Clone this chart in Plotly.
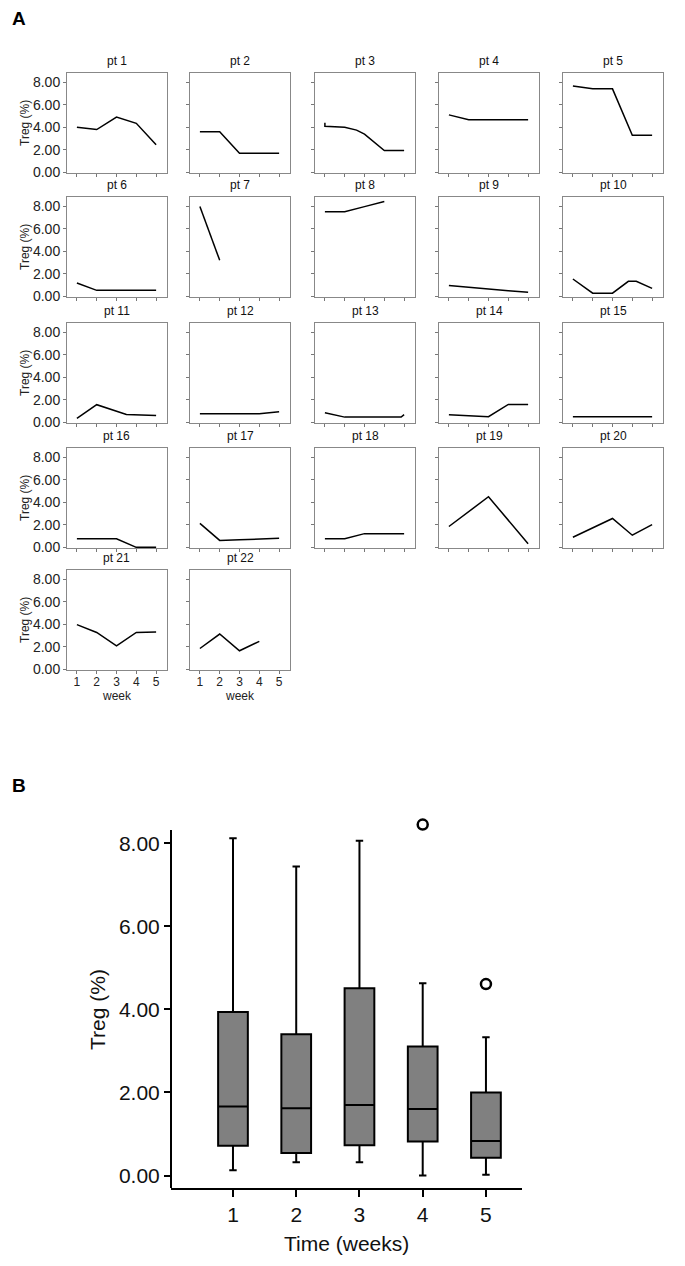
import plotly.graph_objects as go

# ---------------- Panel A data (per patient) ----------------
pt_names = [f"pt {i}" for i in range(1, 23)]
week_full = [1, 2, 3, 4, 5]
pt1_x, pt1_y = week_full, [4.0, 3.8, 4.9, 4.35, 2.45]
pt2_x, pt2_y = week_full, [3.6, 3.6, 1.7, 1.7, 1.7]
pt3_x, pt3_y = [1, 1, 2, 2.6, 3, 3.5, 4, 5], [4.4, 4.1, 4.0, 3.75, 3.4, 2.7, 1.95, 1.95]
pt4_x, pt4_y = week_full, [5.1, 4.67, 4.67, 4.67, 4.67]
pt5_x, pt5_y = week_full, [7.65, 7.4, 7.4, 3.3, 3.3]
pt6_x, pt6_y = week_full, [1.2, 0.55, 0.55, 0.55, 0.55]
pt7_x, pt7_y = [1, 2], [7.97, 3.2]
pt8_x, pt8_y = [1, 2, 3, 4], [7.5, 7.5, 7.95, 8.4]
pt9_x, pt9_y = week_full, [0.97, 0.8, 0.67, 0.52, 0.38]
pt10_x, pt10_y = [1, 2, 3, 3.8, 4.2, 5], [1.55, 0.3, 0.3, 1.35, 1.35, 0.72]
pt11_x, pt11_y = [1, 2, 3.5, 5], [0.36, 1.58, 0.72, 0.62]
pt12_x, pt12_y = week_full, [0.78, 0.78, 0.78, 0.78, 0.95]
pt13_x, pt13_y = [1, 2, 3, 4, 4.85, 5], [0.86, 0.48, 0.48, 0.48, 0.48, 0.7]
pt14_x, pt14_y = week_full, [0.68, 0.6, 0.52, 1.6, 1.6]
pt15_x, pt15_y = week_full, [0.52, 0.52, 0.52, 0.52, 0.52]
pt16_x, pt16_y = week_full, [0.77, 0.77, 0.77, 0.02, 0.02]
pt17_x, pt17_y = week_full, [2.14, 0.63, 0.68, 0.74, 0.82]
pt18_x, pt18_y = week_full, [0.77, 0.77, 1.23, 1.23, 1.23]
pt19_x, pt19_y = [1, 3, 5], [1.86, 4.49, 0.34]
pt20_x, pt20_y = [1, 3, 4, 5], [0.91, 2.57, 1.09, 2.03]
pt21_x, pt21_y = week_full, [3.97, 3.28, 2.1, 3.28, 3.32]
pt22_x, pt22_y = [1, 2, 3, 4], [1.86, 3.14, 1.66, 2.49]

pt_xs = [pt1_x, pt2_x, pt3_x, pt4_x, pt5_x, pt6_x, pt7_x, pt8_x, pt9_x, pt10_x, pt11_x,
         pt12_x, pt13_x, pt14_x, pt15_x, pt16_x, pt17_x, pt18_x, pt19_x, pt20_x, pt21_x, pt22_x]
pt_ys = [pt1_y, pt2_y, pt3_y, pt4_y, pt5_y, pt6_y, pt7_y, pt8_y, pt9_y, pt10_y, pt11_y,
         pt12_y, pt13_y, pt14_y, pt15_y, pt16_y, pt17_y, pt18_y, pt19_y, pt20_y, pt21_y, pt22_y]

small_yticks = [0, 2, 4, 6, 8]
small_xticks = [1, 2, 3, 4, 5]

# ---------------- Panel B data (box summary) ----------------
box_weeks = [1, 2, 3, 4, 5]
box_lower = [0.13, 0.32, 0.32, 0.0, 0.02]
box_q1 = [0.72, 0.54, 0.73, 0.82, 0.43]
box_median = [1.66, 1.62, 1.70, 1.60, 0.83]
box_q3 = [3.94, 3.40, 4.51, 3.11, 2.00]
box_upper = [8.12, 7.44, 8.06, 4.63, 3.33]
outlier_x = [4, 5]
outlier_y = [8.45, 4.61]
big_yticks = [0, 2, 4, 6, 8]

# ---------------- layout geometry (window pixels) ----------------
WIN_W, WIN_H = 685, 1266
OFF = 8  # default page body margin
W, H = WIN_W - 2 * OFF, WIN_H - 2 * OFF
col_left = [67, 190, 315, 439, 563]
row_top = [73, 197, 323, 448, 570]
pw, ph = 100, 100
FONT = "Liberation Sans"


def px_x(p):
    return (p - OFF) / W


def px_y(p):
    return 1 - (p - OFF) / H


fig = go.Figure()
layout = dict(
    width=W, height=H, margin=dict(l=0, r=0, t=0, b=0, autoexpand=False),
    paper_bgcolor="white", plot_bgcolor="white", showlegend=False,
    font=dict(family=FONT, color="#222222"),
)
annotations = []
shapes = []

for i in range(22):
    r, c = divmod(i, 5)
    n = i + 1
    xa = "xaxis" if n == 1 else f"xaxis{n}"
    ya = "yaxis" if n == 1 else f"yaxis{n}"
    xref = "x" if n == 1 else f"x{n}"
    yref = "y" if n == 1 else f"y{n}"
    x0, y0 = col_left[c], row_top[r]
    layout[xa] = dict(
        domain=[px_x(x0), px_x(x0 + pw)], anchor=yref, range=[0.5, 5.55],
        tickvals=small_xticks, ticks="outside", ticklen=3, tickcolor="#777777",
        showline=True, mirror=True, linecolor="#888888", linewidth=1,
        showgrid=False, zeroline=False, ticklabelstandoff=-2,
        showticklabels=(r == 4), tickfont=dict(size=12, color="#222222"),
    )
    layout[ya] = dict(
        domain=[px_y(y0 + ph), px_y(y0)], anchor=xref, range=[-0.04, 8.8],
        tickvals=small_yticks, tickformat=".2f", ticks="outside", ticklen=3,
        tickcolor="#777777", showline=True, mirror=True, linecolor="#888888",
        linewidth=1, showgrid=False, zeroline=False,
        showticklabels=(c == 0), tickfont=dict(size=14, color="#222222"),
    )
    fig.add_trace(go.Scatter(
        x=pt_xs[i], y=pt_ys[i], mode="lines", xaxis=xref, yaxis=yref,
        line=dict(color="black", width=1.5), hoverinfo="skip",
    ))
    annotations.append(dict(
        text=pt_names[i], x=px_x(x0 + pw / 2), y=px_y(y0 - 3), xref="paper", yref="paper",
        xanchor="center", yanchor="bottom", showarrow=False,
        font=dict(size=12, color="#111111"),
    ))
    if c == 0:
        annotations.append(dict(
            text="Treg (%)", x=px_x(25), y=px_y(y0 + ph / 2), xref="paper", yref="paper",
            xanchor="center", yanchor="middle", textangle=-90, showarrow=False,
            font=dict(size=12, color="#222222"),
        ))
    if r == 4:
        annotations.append(dict(
            text="week", x=px_x(x0 + pw / 2), y=px_y(696), xref="paper", yref="paper",
            xanchor="center", yanchor="middle", showarrow=False,
            font=dict(size=12, color="#222222"),
        ))

# ---------------- Panel B ----------------
bx = "x23"
by = "y23"
b_ylo, b_yhi = -0.30, 8.32   # visible extent of the drawn y axis line
layout["xaxis23"] = dict(
    domain=[px_x(171), px_x(522)], anchor=by, range=[0.02, 5.57],
    tickvals=box_weeks, ticks="outside", ticklen=7, tickwidth=2, tickcolor="black",
    showline=True, linecolor="black", linewidth=2, showgrid=False, zeroline=False,
    tickfont=dict(size=21, color="#111111"),
)
# extend range upward so the top outlier is visible; axis line drawn as shape
top_px = 1188 - (8.70 - b_ylo) / (b_yhi - b_ylo) * (1188 - 830)
layout["yaxis23"] = dict(
    domain=[px_y(1188), px_y(top_px)], anchor=bx, range=[b_ylo, 8.70],
    tickvals=big_yticks, tickformat=".2f", ticks="outside", ticklen=6, tickwidth=2,
    tickcolor="black", showline=False,
    showgrid=False, zeroline=False, tickfont=dict(size=21, color="#111111"),
)
shapes.append(dict(
    type="line", xref="x23 domain", yref="y23", x0=0, x1=0, y0=b_ylo, y1=b_yhi,
    line=dict(color="black", width=2),
))
fig.add_trace(go.Box(
    x=box_weeks, q1=box_q1, median=box_median, q3=box_q3,
    lowerfence=box_lower, upperfence=box_upper,
    xaxis=bx, yaxis=by, width=0.47, whiskerwidth=0.25,
    fillcolor="#808080", line=dict(color="black", width=2),
    boxpoints=False, hoverinfo="skip",
))
fig.add_trace(go.Scatter(
    x=outlier_x, y=outlier_y, mode="markers", xaxis=bx, yaxis=by, cliponaxis=False,
    marker=dict(symbol="circle-open", size=10, color="black", line=dict(width=2.5)),
    hoverinfo="skip",
))
annotations.append(dict(
    text="Treg (%)", x=px_x(97), y=px_y(1010), xref="paper", yref="paper",
    xanchor="center", yanchor="middle", textangle=-90, showarrow=False,
    font=dict(size=21, color="#111111"),
))
annotations.append(dict(
    text="Time (weeks)", x=px_x(346), y=px_y(1243), xref="paper", yref="paper",
    xanchor="center", yanchor="middle", showarrow=False,
    font=dict(size=21, color="#111111"),
))
annotations.append(dict(
    text="<b>A</b>", x=px_x(10), y=px_y(18), xref="paper", yref="paper",
    xanchor="left", yanchor="middle", showarrow=False, font=dict(size=19, color="black"),
))
annotations.append(dict(
    text="<b>B</b>", x=px_x(10), y=px_y(785), xref="paper", yref="paper",
    xanchor="left", yanchor="middle", showarrow=False, font=dict(size=19, color="black"),
))

layout["annotations"] = annotations
layout["shapes"] = shapes
fig.update_layout(**layout)
fig.write_html("out.html")
